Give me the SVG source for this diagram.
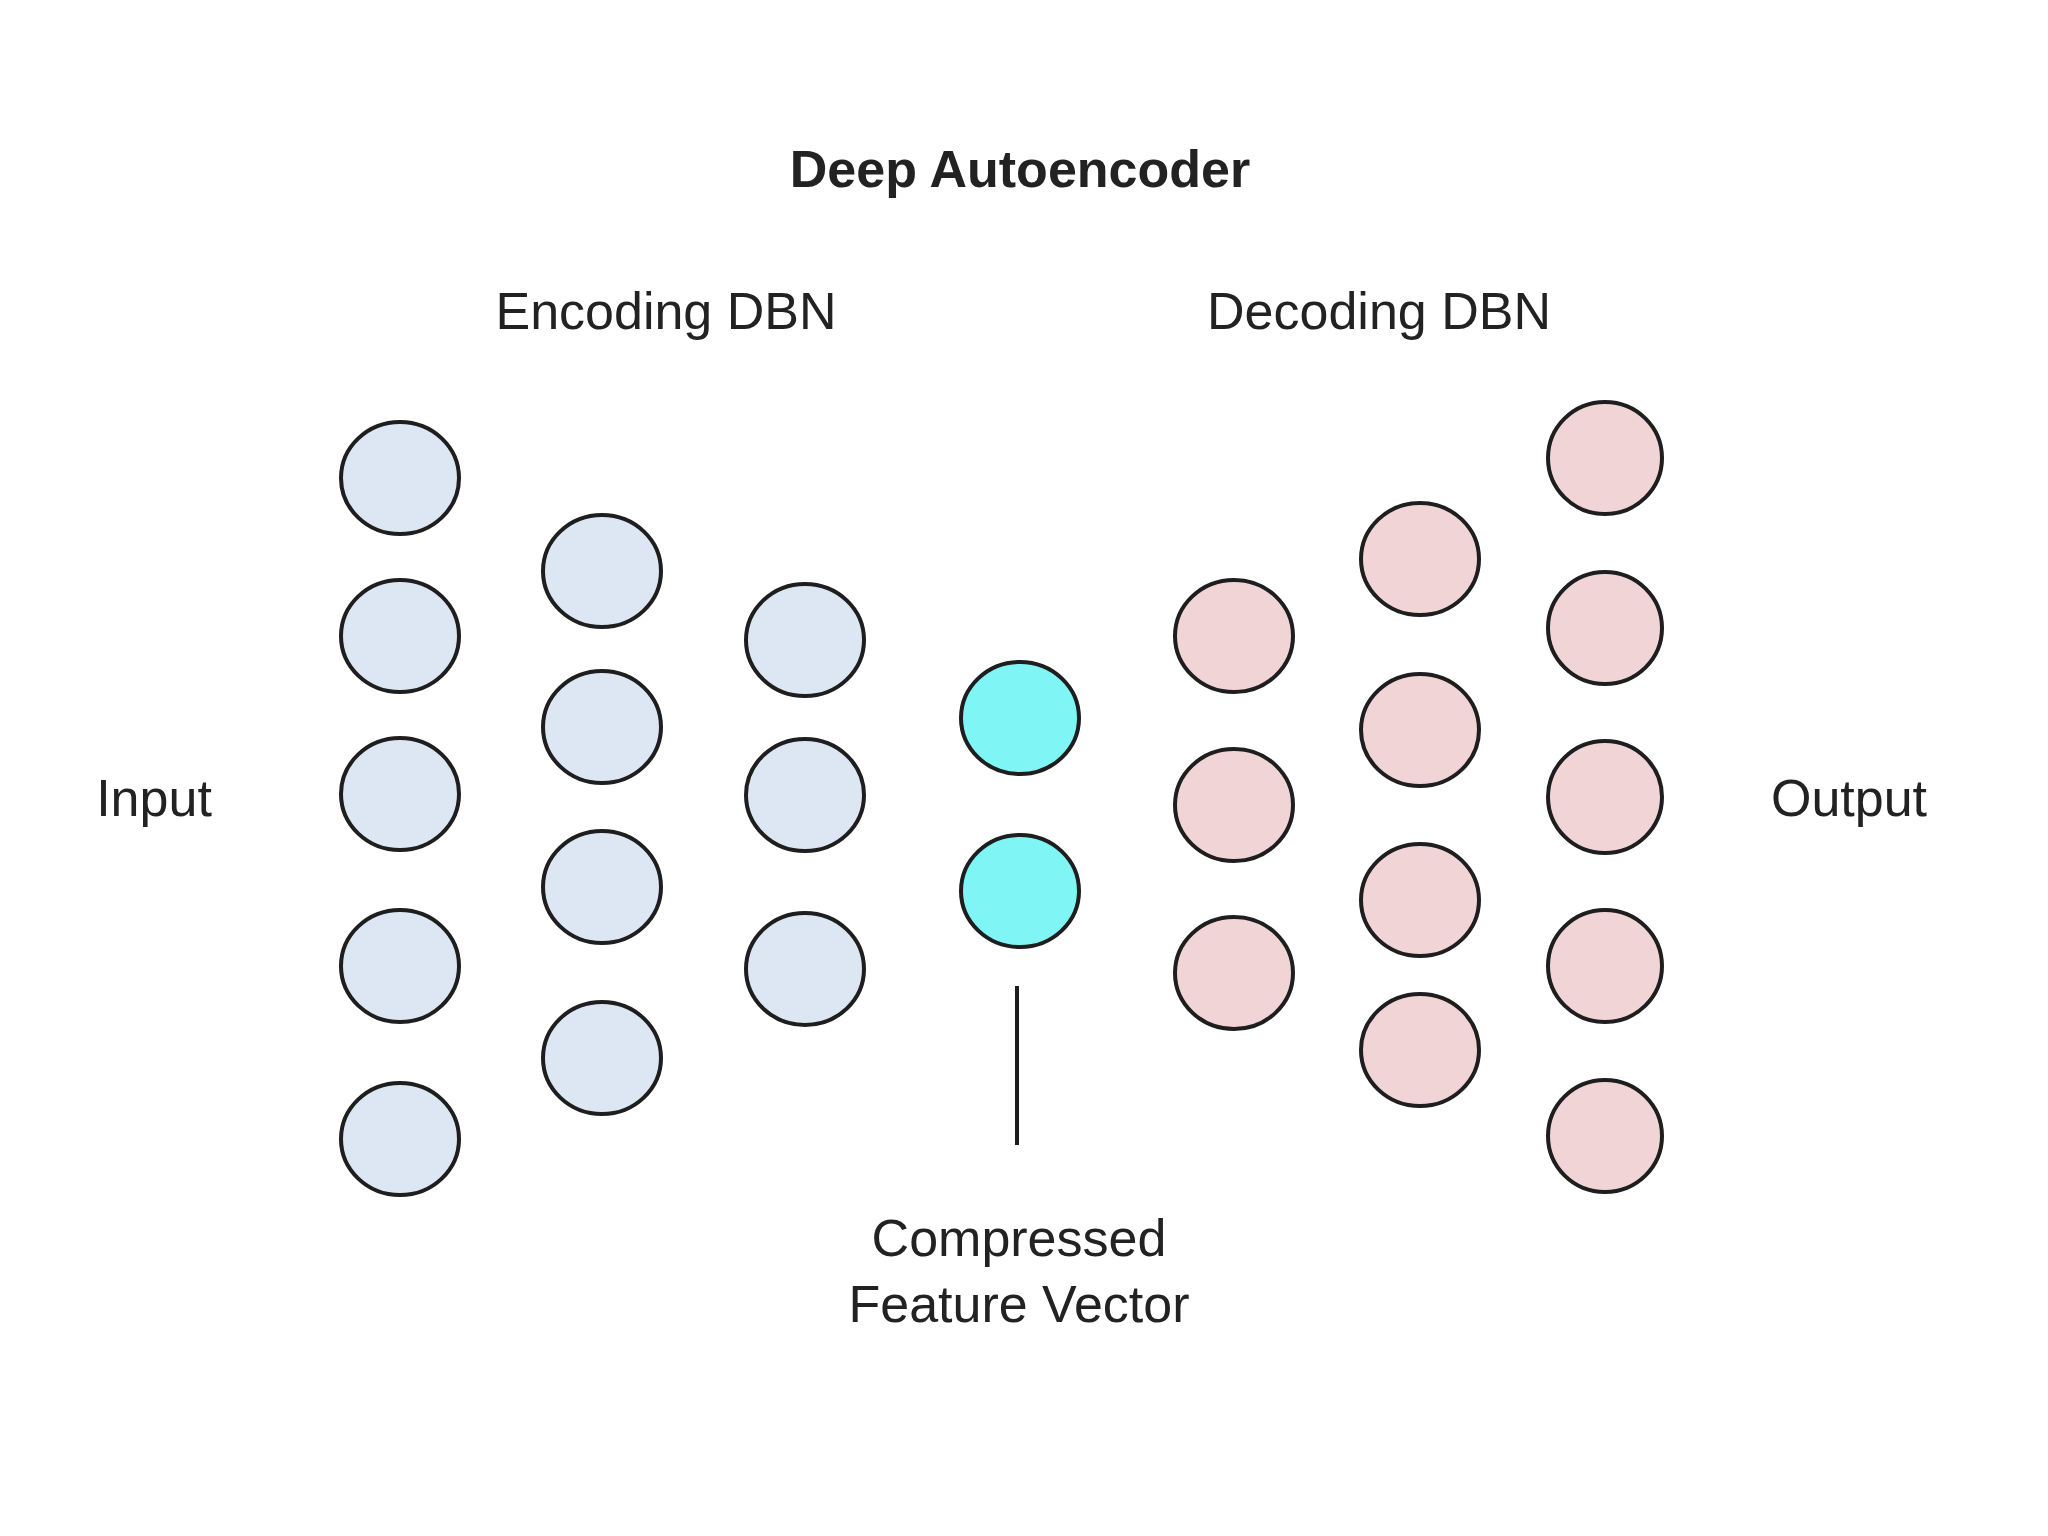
<svg xmlns="http://www.w3.org/2000/svg" width="2048" height="1536" viewBox="0 0 2048 1536">
<style>
text{font-family:"Liberation Sans",Arial,sans-serif;fill:#222;text-anchor:middle}
.t{font-weight:bold;font-size:52px}
.l{font-size:52px}
ellipse{stroke:#1e1e1e;stroke-width:4}
.e{fill:#dce7f3}.c{fill:#80f5f5}.d{fill:#f1d5d6}
</style>
<rect width="2048" height="1536" fill="#fff"/>
<text class="t" x="1020" y="187">Deep Autoencoder</text>
<text class="l" x="666" y="329">Encoding DBN</text>
<text class="l" x="1379" y="329">Decoding DBN</text>
<text class="l" x="154" y="816">Input</text>
<text class="l" x="1849" y="816">Output</text>
<text class="l" x="1019" y="1256">Compressed</text>
<text class="l" x="1019" y="1322">Feature Vector</text>
<g id="connectors"><line x1="1017" y1="986" x2="1017" y2="1145" stroke="#1e1e1e" stroke-width="4"/></g>
<g id="enc1" class="e"><ellipse cx="400" cy="478" rx="59" ry="56"/><ellipse cx="400" cy="636" rx="59" ry="56"/><ellipse cx="400" cy="794" rx="59" ry="56"/><ellipse cx="400" cy="966" rx="59" ry="56"/><ellipse cx="400" cy="1139" rx="59" ry="56"/></g>
<g id="enc2" class="e"><ellipse cx="602" cy="571" rx="59" ry="56"/><ellipse cx="602" cy="727" rx="59" ry="56"/><ellipse cx="602" cy="887" rx="59" ry="56"/><ellipse cx="602" cy="1058" rx="59" ry="56"/></g>
<g id="enc3" class="e"><ellipse cx="805" cy="640" rx="59" ry="56"/><ellipse cx="805" cy="795" rx="59" ry="56"/><ellipse cx="805" cy="969" rx="59" ry="56"/></g>
<g id="code" class="c"><ellipse cx="1020" cy="718" rx="59" ry="56"/><ellipse cx="1020" cy="891" rx="59" ry="56"/></g>
<g id="dec1" class="d"><ellipse cx="1234" cy="636" rx="59" ry="56"/><ellipse cx="1234" cy="805" rx="59" ry="56"/><ellipse cx="1234" cy="973" rx="59" ry="56"/></g>
<g id="dec2" class="d"><ellipse cx="1420" cy="559" rx="59" ry="56"/><ellipse cx="1420" cy="730" rx="59" ry="56"/><ellipse cx="1420" cy="900" rx="59" ry="56"/><ellipse cx="1420" cy="1050" rx="59" ry="56"/></g>
<g id="dec3" class="d"><ellipse cx="1605" cy="458" rx="57" ry="56"/><ellipse cx="1605" cy="628" rx="57" ry="56"/><ellipse cx="1605" cy="797" rx="57" ry="56"/><ellipse cx="1605" cy="966" rx="57" ry="56"/><ellipse cx="1605" cy="1136" rx="57" ry="56"/></g>
</svg>
